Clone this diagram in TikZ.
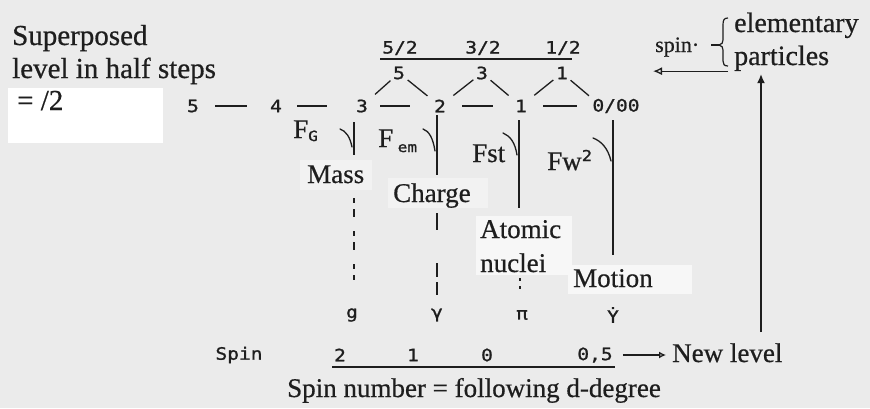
\documentclass[tikz,border=0pt]{standalone}
\usepackage{fontspec}
\setmainfont{Liberation Serif}[UprightFeatures={FakeBold=0.6}]
\newfontfamily\twfont{DejaVu Sans Mono}[UprightFeatures={FakeStretch=1.15,FakeBold=1.2}]
\usetikzlibrary{arrows.meta}
\definecolor{paper}{HTML}{EBEBEB}
\definecolor{ink}{HTML}{1E1E1E}
\begin{document}
\begin{tikzpicture}[x=1pt,y=-1pt,
  lbl/.style={inner sep=0pt, text=ink, font=\fontsize{27}{30}\selectfont, anchor=base west},
  biglbl/.style={lbl, font=\fontsize{29}{33}\selectfont},
  dig/.style={inner sep=1pt, text=ink, font=\twfont\fontsize{17}{17}\selectfont},
  sym/.style={inner sep=1pt, text=ink, font=\twfont\fontsize{17}{17}\selectfont},
  ln/.style={line width=1.3pt, draw=ink},
  updiag/.style={ln, shorten <=8pt, shorten >=2pt},
  dndiag/.style={ln, shorten <=2pt, shorten >=7pt},
  hook/.style={line width=1.3pt, draw=ink, line cap=round}]
\fill[paper] (0,0) rectangle (870,408);
\useasboundingbox (0,0) rectangle (870,408);
% white patches
\fill[white] (8,88) rectangle (163,143);
\fill[white!60!paper] (476,216) rectangle (572,275);
\fill[white!60!paper] (568,265) rectangle (692,294);
\fill[white!35!paper] (388,178) rectangle (488,208);
\fill[white!35!paper] (300,160) rectangle (372,190);
% left text
\node[biglbl] (sup1) at (12,45) {Superposed};
\node[biglbl] (sup2) at (12,78) {level in half steps};
\node[biglbl] (sup3) at (17,110) {= /2};
% level row
\node[dig] (L5) at (193,106) {5};
\node[dig] (L4) at (276,106) {4};
\node[dig] (L3) at (362,106) {3};
\node[dig] (L2) at (440,106) {2};
\node[dig] (L1) at (521,106) {1};
\node[dig] (L0) at (616,106) {0/00};
\draw[ln, shorten <=15pt, shorten >=22pt] (L5) -- (L4);
\draw[ln, shorten <=14pt, shorten >=28pt] (L4) -- (L3);
\draw[ln, shorten <=11pt, shorten >=23pt] (L3) -- (L2);
\draw[ln, shorten <=15pt, shorten >=21pt] (L2) -- (L1);
\draw[ln, shorten <=15pt, shorten >=14pt] (L1) -- (L0);
% upper row
\node[dig] (U5) at (399,73) {5};
\node[dig] (U3) at (482,73) {3};
\node[dig] (U1) at (562,73) {1};
\draw[updiag] (L3) -- (U5);
\draw[dndiag] (U5) -- (L2);
\draw[updiag] (L2) -- (U3);
\draw[dndiag] (U3) -- (L1);
\draw[updiag] (L1) -- (U1);
\draw[ln, shorten <=2pt, shorten >=3pt] (U1) -- (L0.north west);
\coordinate (tl) at (380,59);
\coordinate (tr) at (572,59);
\draw[ln] (tl) -- (tr);
\node[dig] (F52) at (400,48) {5/2};
\node[dig] (F32) at (483,48) {3/2};
\node[dig] (F12) at (563,48) {1/2};
% forces
\node[lbl] (FG) at (293,138) {F\raisebox{-3pt}{\twfont\fontsize{14}{14}\selectfont G}};
\node[lbl] (Fem) at (378,147) {F\,\raisebox{-5pt}{\twfont\fontsize{14}{14}\selectfont em}};
\node[lbl] (Fst) at (472,162) {Fst};
\node[lbl] (Fw) at (547,170) {Fw\raisebox{9pt}{\twfont\fontsize{15}{15}\selectfont 2}};
% verticals and hooks
\draw[ln] (354,122) -- (354,155);
\draw[hook] (340,129) .. controls (346,131) and (350,137) .. (352,147);
\draw[ln] (437,115) -- (437,175);
\draw[hook] (423,129) .. controls (429,131) and (433,138) .. (435,151);
\draw[ln] (519,120) -- (519,208);
\draw[hook] (503,133) .. controls (510,136) and (515,142) .. (517,155);
\draw[ln] (613,120) -- (613,255);
\draw[hook] (593,138) .. controls (601,141) and (608,148) .. (611,161);
% labels
\node[lbl] (mass) at (307,183) {Mass};
\node[lbl] (charge) at (393,202) {Charge};
\node[lbl] (atomic) at (480,238) {Atomic};
\node[lbl] (nuclei) at (480,272) {nuclei};
\node[lbl] (motion) at (573,287) {Motion};
% dashed continuations
\draw[ln, dash pattern=on 5pt off 6pt on 8pt off 14pt] (354,198) -- (354,280);
\draw[ln, dash pattern=on 17pt off 33pt on 14pt off 5pt on 13pt off 5pt] (437,213) -- (437,295);
\draw[ln, dash pattern=on 3pt off 5pt] (520,278) -- (520,293);
% particle symbols
\node[sym] (sg) at (352,315) {g};
\node[sym] (sy) at (437,315) {γ};
\node[sym] (sp) at (522,315) {π};
\node[sym] (sY) at (613,315) {\.{Y}};
% bottom
\node[dig] (spinlbl) at (239,355) {Spin};
\node[dig] (S2) at (340,355) {2};
\node[dig] (S1) at (413,355) {1};
\node[dig] (S0) at (487,355) {0};
\node[dig] (S05) at (595,355) {0,5};
\coordinate (bl) at (332,367);
\coordinate (br) at (615,367);
\draw[ln] (bl) -- (br);
\node[lbl] (NL) at (672,362) {New level};
\draw[ln, -{Latex[open,length=7pt,width=7pt]}, shorten <=9pt, shorten >=6pt] (S05) -- (S05 -| NL.west);
\node[lbl] (snum) at (287,397) {Spin number = following d-degree};
% right cluster
\node[lbl, font=\fontsize{28}{30}\selectfont] (elem) at (734,32) {elementary};
\node[lbl, font=\fontsize{28}{30}\selectfont] (part) at (734,65) {particles};
\node[lbl, font=\fontsize{22}{24}\selectfont] (spin) at (655,52) {spin·};
\coordinate (bt) at (728,18);
\coordinate (bm) at (719,45);
\coordinate (bb) at (728,66);
\draw[line width=1.2pt, draw=ink] (bt) .. controls (724,18) and (723,20) .. (723,25) -- (723,40)
  .. controls (723,43) and (722,44) .. (bm) .. controls (722,46) and (723,47) .. (723,50)
  -- (723,61) .. controls (723,64) and (724,66) .. (bb);
\draw[ln] (bm) -- ++(-8,0);
\draw[ln, -{Latex[open,length=9pt,width=8pt]}, shorten <=6pt] (part.south west) -- ++(-81,0);
\coordinate (vb) at (761,332);
\draw[ln, -{Latex[length=9pt,width=8pt]}, shorten >=3pt] (vb) -- (vb |- part.south);
\end{tikzpicture}
\end{document}
